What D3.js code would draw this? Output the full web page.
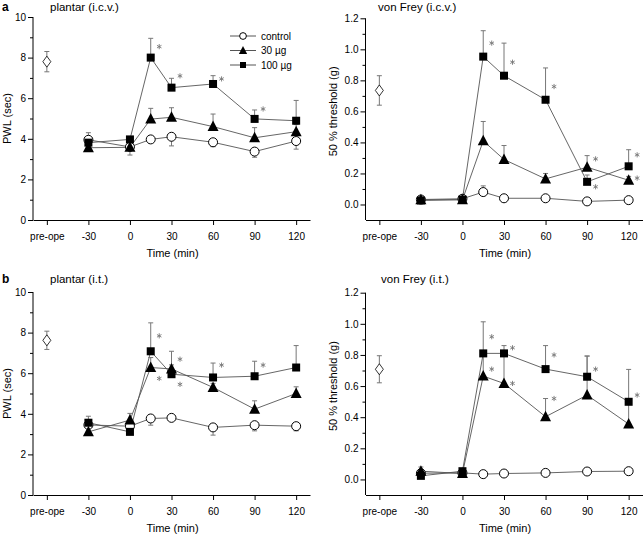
<!DOCTYPE html>
<html><head><meta charset="utf-8">
<script src="https://cdn.jsdelivr.net/npm/d3@7"></script>
<style>
body{margin:0;background:#fff}
svg{display:block}
text{font-family:"Liberation Sans",Arial,Helvetica,sans-serif}
</style>
</head><body>
<svg id="chart" width="644" height="534"></svg>
<script>
// ---------- shared categories ----------
const times = [-30, 0, 15, 30, 60, 90, 120];
const preopeTime = -60;
const xTickValues = [-60, -30, 0, 30, 60, 90, 120];
const xTickLabels = ["pre-ope", "-30", "0", "30", "60", "90", "120"];
const seriesNames = ["control", "30 µg", "100 µg"];

// ---------- a: plantar (i.c.v.) ----------
const plantarIcvPre = 7.8, plantarIcvPreErr = 0.5;
const plantarIcvControl = [3.95, 3.6, 3.97, 4.1, 3.83, 3.37, 3.89];
const plantarIcvControlErr = [0.35, -0.4, 0, -0.45, -0.22, -0.28, -0.4];
const plantarIcv30 = [3.56, 3.58, 4.97, 5.06, 4.6, 4.05, 4.35];
const plantarIcv30Err = [0, 0, 0.53, 0.47, 0.62, 0.5, 0.35];
const plantarIcv100 = [3.81, 3.97, 8.0, 6.52, 6.7, 4.98, 4.89];
const plantarIcv100Err = [0, 0, 0.95, 0.46, 0.41, 0.44, 1.0];
const plantarIcvStarTimes = [15, 30, 60, 90];
const plantarIcvStarValues = [8.54, 7.1, 6.95, 5.47];

// ---------- a: von Frey (i.c.v.) ----------
const vonFreyIcvPre = 0.735, vonFreyIcvPreErr = 0.095;
const vonFreyIcvControl = [0.032, 0.037, 0.08, 0.04, 0.04, 0.02, 0.028];
const vonFreyIcvControlErr = [0, 0, 0.04, 0, 0, 0, 0];
const vonFreyIcv30 = [0.03, 0.03, 0.41, 0.29, 0.165, 0.24, 0.156];
const vonFreyIcv30Err = [0, 0, 0.125, 0.09, 0.035, 0.075, 0.025];
const vonFreyIcv100 = [0.026, 0.032, 0.953, 0.83, 0.675, 0.146, 0.246];
const vonFreyIcv100Err = [0, 0, 0.167, 0.21, 0.205, 0.044, 0.107];
const vonFreyIcvStarTimes = [15, 30, 60, 90, 90, 120, 120];
const vonFreyIcvStarValues = [1.04, 0.917, 0.76, 0.294, 0.114, 0.32, 0.17];

// ---------- b: plantar (i.t.) ----------
const plantarItPre = 7.62, plantarItPreErr = 0.45;
const plantarItControl = [3.45, 3.39, 3.77, 3.8, 3.33, 3.44, 3.39];
const plantarItControlErr = [0, 0, -0.33, 0, -0.38, -0.28, -0.23];
const plantarIt30 = [3.11, 3.69, 6.28, 6.21, 5.3, 4.23, 5.0];
const plantarIt30Err = [0, 0.33, 0.49, 0.2, 0.2, 0.41, 0.33];
const plantarIt100 = [3.56, 3.11, 7.08, 5.95, 5.79, 5.85, 6.28];
const plantarIt100Err = [0.32, 0, 1.4, 1.13, 0.71, 0.74, 1.08];
const plantarItStarTimes = [15, 15, 30, 30, 60, 90];
const plantarItStarValues = [7.84, 5.74, 6.69, 5.45, 6.4, 6.4];

// ---------- b: von Frey (i.t.) ----------
const vonFreyItPre = 0.708, vonFreyItPreErr = 0.087;
const vonFreyItControl = [0.04, 0.042, 0.034, 0.038, 0.042, 0.051, 0.053];
const vonFreyItControlErr = [0, 0, 0, 0, 0, 0, 0];
const vonFreyIt30 = [0.053, 0.038, 0.664, 0.617, 0.403, 0.542, 0.356];
const vonFreyIt30Err = [0.027, 0, 0.15, 0.19, 0.117, 0.251, 0.14];
const vonFreyIt100 = [0.023, 0.053, 0.81, 0.81, 0.709, 0.66, 0.499];
const vonFreyIt100Err = [0, 0, 0.203, 0.05, 0.151, 0.133, 0.208];
const vonFreyItStarTimes = [15, 15, 30, 30, 60, 60, 90, 120];
const vonFreyItStarValues = [0.917, 0.709, 0.846, 0.617, 0.8, 0.52, 0.709, 0.542];

// ---------- axis ticks ----------
const pwlTicks = [0, 2, 4, 6, 8, 10];
const pwlMinor = [1, 3, 5, 7, 9];
const thrTicks = [0, 0.2, 0.4, 0.6, 0.8, 1.0, 1.2];
const thrMinor = [0.1, 0.3, 0.5, 0.7, 0.9, 1.1];

const svg = d3.select("#chart");
const LINE = "#555", ERR = "#777", STAR = "#777";

const panels = [
  {letter: "a", title: "plantar (i.c.v.)", yTitle: "PWL (sec)", legend: true,
   xr: [33, 310], yDomain: [0, 10], yr: [220, 17], ticks: pwlTicks, minor: pwlMinor, fmt: d3.format("d"),
   titleCenter: [0, 10], yTitleX: 7,
   pre: [plantarIcvPre, plantarIcvPreErr],
   series: [[plantarIcvControl, plantarIcvControlErr], [plantarIcv30, plantarIcv30Err], [plantarIcv100, plantarIcv100Err]],
   stars: [plantarIcvStarTimes, plantarIcvStarValues], titleY: 11, titleX: 50},
  {letter: null, title: "von Frey (i.c.v.)", yTitle: "50 % threshold (g)",
   xr: [365.5, 642.5], yDomain: [-0.1, 1.2], yr: [220, 18.3], ticks: thrTicks, minor: thrMinor, fmt: d3.format(".1f"),
   titleCenter: [0, 1.2], yTitleX: 333,
   pre: [vonFreyIcvPre, vonFreyIcvPreErr],
   series: [[vonFreyIcvControl, vonFreyIcvControlErr], [vonFreyIcv30, vonFreyIcv30Err], [vonFreyIcv100, vonFreyIcv100Err]],
   stars: [vonFreyIcvStarTimes, vonFreyIcvStarValues], titleY: 11, titleX: 378},
  {letter: "b", title: "plantar (i.t.)", yTitle: "PWL (sec)",
   xr: [33, 310], yDomain: [0, 10], yr: [495, 292], ticks: pwlTicks, minor: pwlMinor, fmt: d3.format("d"),
   titleCenter: [0, 10], yTitleX: 7,
   pre: [plantarItPre, plantarItPreErr],
   series: [[plantarItControl, plantarItControlErr], [plantarIt30, plantarIt30Err], [plantarIt100, plantarIt100Err]],
   stars: [plantarItStarTimes, plantarItStarValues], titleY: 283, titleX: 50},
  {letter: null, title: "von Frey (i.t.)", yTitle: "50 % threshold (g)",
   xr: [365.5, 642.5], yDomain: [-0.1, 1.2], yr: [495, 292.7], ticks: thrTicks, minor: thrMinor, fmt: d3.format(".1f"),
   titleCenter: [0, 1.2], yTitleX: 333,
   pre: [vonFreyItPre, vonFreyItPreErr],
   series: [[vonFreyItControl, vonFreyItControlErr], [vonFreyIt30, vonFreyIt30Err], [vonFreyIt100, vonFreyIt100Err]],
   stars: [vonFreyItStarTimes, vonFreyItStarValues], titleY: 283, titleX: 381}
];

const triPath = s => `M0,${-s*0.6}L${s*0.55},${s*0.45}L${-s*0.55},${s*0.45}Z`;
function marker(g, kind, cx, cy, scale) {
  const k = scale || 1;
  if (kind === 0) {
    g.append("circle").attr("cx", cx).attr("cy", cy).attr("r", 4.5 * k)
      .attr("fill", "#fff").attr("stroke", "#000").attr("stroke-width", 1);
  } else if (kind === 1) {
    g.append("path").attr("transform", `translate(${cx},${cy})`).attr("d", triPath(10 * k)).attr("fill", "#000");
  } else {
    g.append("rect").attr("x", cx - 4 * k).attr("y", cy - 4 * k).attr("width", 8 * k).attr("height", 8 * k).attr("fill", "#000");
  }
}
// small 6-armed asterisk drawn as a path
function starPath(r) {
  const parts = [];
  for (let a = 0; a < 3; a++) {
    const ang = Math.PI / 2 + a * Math.PI / 3;
    const dx = r * Math.cos(ang), dy = r * Math.sin(ang);
    parts.push(`M${-dx},${-dy}L${dx},${dy}`);
  }
  return parts.join("");
}

panels.forEach(p => {
  const x = d3.scaleLinear().domain([-70, 130]).range(p.xr);
  const y = d3.scaleLinear().domain(p.yDomain).range(p.yr);
  const g = svg.append("g");

  // axes
  const yAxis = g.append("g").attr("transform", `translate(${p.xr[0]},0)`)
    .call(d3.axisLeft(y).tickValues(p.ticks).tickFormat(p.fmt).tickSize(5).tickSizeOuter(0).tickPadding(2));
  yAxis.select(".domain").attr("d", `M0,${p.yr[0]}V${y(p.ticks[p.ticks.length - 1])}`);
  g.append("g").attr("transform", `translate(${p.xr[0]},0)`)
    .call(d3.axisLeft(y).tickValues(p.minor).tickFormat("").tickSize(3).tickSizeOuter(0))
    .select(".domain").remove();
  g.append("g").attr("transform", `translate(0,${p.yr[0]})`)
    .call(d3.axisBottom(x).tickValues(xTickValues).tickFormat((d, i) => xTickLabels[i]).tickSize(5).tickSizeOuter(0).tickPadding(8));
  g.selectAll(".tick text").attr("font-size", 10).attr("font-family", "'Liberation Sans',Arial,sans-serif").attr("fill", "#000");
  g.selectAll(".domain, .tick line").attr("stroke", "#000");

  // axis titles
  g.append("text").attr("x", x(30) + 1).attr("y", p.yr[0] + 37).attr("text-anchor", "middle")
    .attr("font-size", 11).text("Time (min)");
  const yc = (y(p.titleCenter[0]) + y(p.titleCenter[1])) / 2;
  g.append("text").attr("transform", `translate(${p.yTitleX + 4},${yc}) rotate(-90)`).attr("text-anchor", "middle")
    .attr("font-size", 11).text(p.yTitle);

  // panel title + letter
  g.append("text").attr("x", p.titleX).attr("y", p.titleY).attr("font-size", 11.5).text(p.title);
  if (p.letter) g.append("text").attr("x", 2).attr("y", p.titleY).attr("font-size", 12)
    .attr("font-weight", "bold").text(p.letter);

  // draw order: control, 100 µg, 30 µg
  const order = [0, 2, 1];
  const line = d3.line().x((d, i) => x(times[i])).y(d => y(d));
  order.forEach(s => {
    g.append("path").attr("d", line(p.series[s][0])).attr("fill", "none")
      .attr("stroke", LINE).attr("stroke-width", 0.9);
  });
  // error bars
  order.forEach(s => {
    const [vals, errs] = p.series[s];
    vals.forEach((v, i) => {
      if (!errs[i]) return;
      const xx = x(times[i]);
      g.append("line").attr("x1", xx).attr("x2", xx).attr("y1", y(v)).attr("y2", y(v + errs[i]))
        .attr("stroke", ERR).attr("stroke-width", 1);
      g.append("line").attr("x1", xx - 2.5).attr("x2", xx + 2.5).attr("y1", y(v + errs[i])).attr("y2", y(v + errs[i]))
        .attr("stroke", ERR).attr("stroke-width", 1);
    });
  });
  // markers
  order.forEach(s => {
    p.series[s][0].forEach((v, i) => marker(g, s, x(times[i]), y(v)));
  });
  // pre-ope diamond
  const [pv, pe] = p.pre;
  const px = x(preopeTime);
  g.append("line").attr("x1", px).attr("x2", px).attr("y1", y(pv - pe)).attr("y2", y(pv + pe)).attr("stroke", ERR);
  [pv - pe, pv + pe].forEach(v => g.append("line").attr("x1", px - 2.5).attr("x2", px + 2.5)
    .attr("y1", y(v)).attr("y2", y(v)).attr("stroke", ERR));
  g.append("path").attr("transform", `translate(${px},${y(pv)})`).attr("d", "M0,-5.5L4,0L0,5.5L-4,0Z")
    .attr("fill", "#fff").attr("stroke", "#000").attr("stroke-width", 0.8);

  // asterisks
  p.stars[0].forEach((t, i) => {
    g.append("path").attr("transform", `translate(${x(t) + 8.5},${y(p.stars[1][i])})`)
      .attr("d", starPath(2.6)).attr("fill", "none").attr("stroke", STAR).attr("stroke-width", 0.9);
  });

  // legend
  if (p.legend) {
    [0, 1, 2].forEach(s => {
      const ly = 36 + s * 14.5;
      g.append("line").attr("x1", 230).attr("x2", 256).attr("y1", ly).attr("y2", ly).attr("stroke", LINE);
      marker(g, s, 243, ly, 0.75);
      g.append("text").attr("x", 261).attr("y", ly + 3.6).attr("font-size", 10).text(seriesNames[s]);
    });
  }
});
</script>
</body></html>
